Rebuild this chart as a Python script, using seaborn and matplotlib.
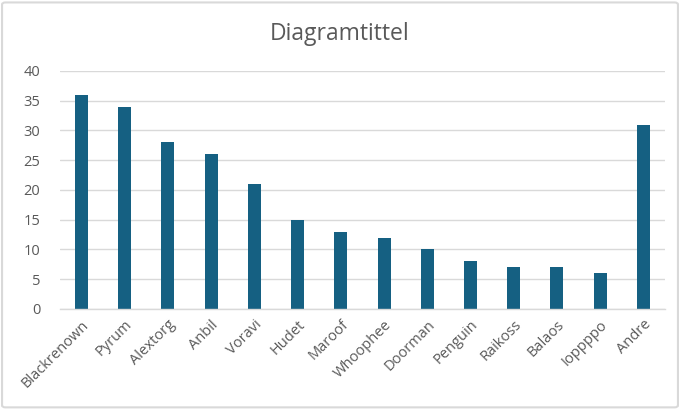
import matplotlib
matplotlib.use("Agg")
import matplotlib.pyplot as plt
import seaborn as sns
import pandas as pd
from matplotlib.patches import FancyBboxPatch

categories = ["Blackrenown", "Pyrum", "Alextorg", "Anbil", "Voravi", "Hudet", "Maroof",
              "Whoophee", "Doorman", "Penguin", "Raikoss", "Balaos", "Ioppppo", "Andre"]
values = [36, 34, 28, 26, 21, 15, 13, 12, 10, 8, 7, 7, 6, 31]
yticks = [0, 5, 10, 15, 20, 25, 30, 35, 40]
title = "Diagramtittel"

sns.set_theme(style="white")
plt.rcParams['font.family'] = ['Open Sans', 'DejaVu Sans']

df = pd.DataFrame({"cat": categories, "val": values})

fig = plt.figure(figsize=(6.8, 4.09), dpi=100)
ax = fig.add_axes([0.088, 0.2445, 0.89, 0.582])

sns.barplot(data=df, x="cat", y="val", color="#156082", width=0.3, ax=ax,
            saturation=1, edgecolor="#156082", linewidth=0)

ax.set_ylim(0, 40)
ax.set_yticks(yticks)
ax.set_xlim(-0.5, len(categories) - 0.5)
ax.yaxis.grid(True, color="#d9d9d9", linewidth=1)
ax.set_axisbelow(True)
for s in ["top", "right", "left"]:
    ax.spines[s].set_visible(False)
ax.spines["bottom"].set_color("#d9d9d9")
ax.spines["bottom"].set_linewidth(1)
ax.set_xlabel("")
ax.set_ylabel("")
ax.tick_params(axis="both", length=0, colors="#595959")
ax.tick_params(axis="y", pad=14)
for lab in ax.get_yticklabels():
    lab.set_fontsize(10.5)
ax.set_xticks(range(len(categories)))
ax.set_xticklabels(categories, rotation=45, ha="right", va="top",
                   rotation_mode="anchor", color="#595959", fontsize=10.5)
ax.tick_params(axis="x", pad=6)

fig.text(0.5, 0.918, title, ha="center", va="center", fontsize=16.5, color="#595959")

border = FancyBboxPatch((0.003, 0.004), 0.994, 0.99, boxstyle="round,pad=0,rounding_size=0.005",
                        transform=fig.transFigure, fill=False, edgecolor="#d9d9d9", linewidth=1.5)
fig.patches.append(border)

fig.savefig("out.png", dpi=100)
